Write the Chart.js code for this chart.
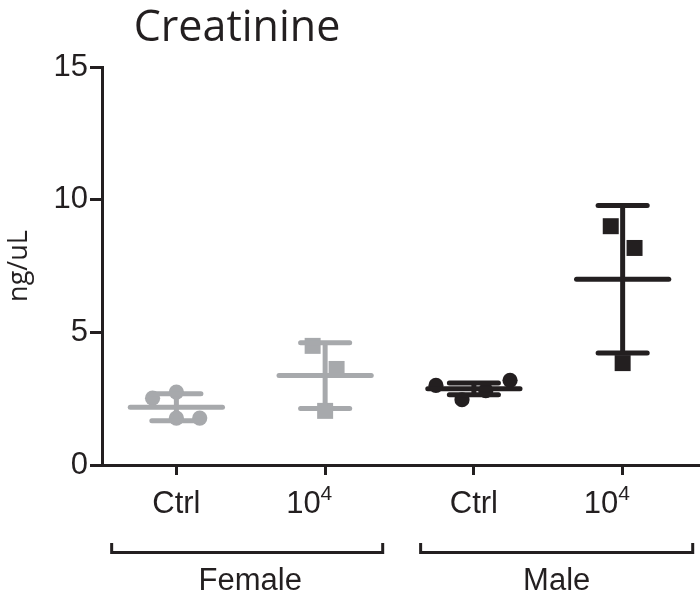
<!DOCTYPE html>
<html><head><meta charset="utf-8">
<script src="https://cdn.jsdelivr.net/npm/chart.js@4.4.1/dist/chart.umd.min.js"></script>
<style>html,body{margin:0;padding:0;background:#fff}#wrap{width:700px;height:605px;position:relative}</style>
</head><body><div id="wrap"><canvas id="c"></canvas></div>
<script>
// ---- data ----
const categories = ['Ctrl', '10', 'Ctrl', '10'];
const categorySup = ['', '4', '', '4'];
const groups = ['Female', 'Male'];
const yTicks = [0, 5, 10, 15];
const femaleCtrl = [2.52, 2.75, 1.77, 1.77];
const female1e4 = [4.49, 3.62, 2.04];
const maleCtrl = [3.00, 3.19, 2.46, 2.80];
const male1e4 = [9.00, 8.18, 3.84];
const means = [2.18, 3.37, 2.87, 7.00];
const sds = [0.51, 1.24, 0.22, 2.78];

// ---- layout / style ----
const jitter = [[-0.16, 0, 0, 0.157], [-0.084, 0.077, 0], [-0.255, 0.243, -0.08, 0.08], [-0.08, 0.08, 0]];
const bracketSpans = [[-0.435, 1.387], [1.642, 3.471]];
const GRAY = '#a7a9ac', BLACK = '#231f20';
const colors = [GRAY, GRAY, BLACK, BLACK];
const shapes = ['circle', 'rect', 'circle', 'rect'];
const series = [femaleCtrl, female1e4, maleCtrl, male1e4];
const ARIAL = '"Liberation Sans", Arial, sans-serif';
const MYRIAD = '"Open Sans", sans-serif';

const datasets = series.map((vals, i) => ({
  label: categories[i] + categorySup[i],
  data: vals.map((v, k) => ({ x: i + jitter[i][k], y: v })),
  pointStyle: shapes[i],
  pointRadius: shapes[i] === 'rect' ? 11.3 : 7.6,
  pointHoverRadius: shapes[i] === 'rect' ? 11.3 : 7.6,
  pointBackgroundColor: colors[i],
  pointBorderColor: colors[i],
  pointBorderWidth: 0,
  showLine: false
}));

const errorBars = {
  id: 'errorBars',
  afterDatasetsDraw(chart) {
    const { ctx, scales: { x, y } } = chart;
    ctx.save();
    ctx.lineWidth = 5;
    means.forEach((m, i) => {
      ctx.strokeStyle = colors[i];
      const cx = x.getPixelForValue(i);
      const top = y.getPixelForValue(m + sds[i]);
      const bot = y.getPixelForValue(m - sds[i]);
      const mid = y.getPixelForValue(m);
      ctx.lineCap = 'butt';
      ctx.beginPath(); ctx.moveTo(cx, top); ctx.lineTo(cx, bot); ctx.stroke();
      ctx.lineCap = 'round';
      const l1 = x.getPixelForValue(i - 0.31), r1 = x.getPixelForValue(i + 0.31);
      const l2 = x.getPixelForValue(i - 0.165), r2 = x.getPixelForValue(i + 0.165);
      ctx.beginPath(); ctx.moveTo(l1, mid); ctx.lineTo(r1, mid); ctx.stroke();
      ctx.beginPath(); ctx.moveTo(l2, top); ctx.lineTo(r2, top); ctx.stroke();
      ctx.beginPath(); ctx.moveTo(l2, bot); ctx.lineTo(r2, bot); ctx.stroke();
    });
    ctx.restore();
  }
};

const labelsPlugin = {
  id: 'labelsPlugin',
  afterDraw(chart) {
    const { ctx, scales: { x } } = chart;
    ctx.save();
    ctx.fillStyle = BLACK;
    ctx.textBaseline = 'alphabetic';
    // title
    ctx.font = '43px ' + MYRIAD;
    ctx.textAlign = 'center';
    ctx.fillText('Creatinine', 237, 41);
    // category labels
    categories.forEach((c, i) => {
      const px = x.getPixelForValue(i);
      ctx.font = '31px ' + ARIAL;
      if (categorySup[i]) {
        ctx.textAlign = 'left';
        const sx = px - 39;
        ctx.fillText(c, sx, 513);
        const w = ctx.measureText(c).width;
        ctx.font = '21px ' + ARIAL;
        ctx.fillText(categorySup[i], sx + w, 500);
      } else {
        ctx.textAlign = 'center';
        ctx.fillText(c, px, 513);
      }
    });
    // brackets + group labels
    ctx.strokeStyle = BLACK;
    ctx.lineWidth = 3;
    ctx.lineCap = 'butt';
    bracketSpans.forEach((s, g) => {
      const a = x.getPixelForValue(s[0]), b = x.getPixelForValue(s[1]);
      ctx.beginPath();
      ctx.moveTo(a, 543); ctx.lineTo(a, 552.5); ctx.lineTo(b, 552.5); ctx.lineTo(b, 543);
      ctx.stroke();
      ctx.font = '31px ' + ARIAL;
      ctx.textAlign = 'center';
      ctx.fillText(groups[g], (a + b) / 2 + (g === 0 ? 3 : 0), 590);
    });
    ctx.restore();
  }
};

new Chart(document.getElementById('c'), {
  type: 'scatter',
  data: { datasets },
  options: {
    responsive: true,
    maintainAspectRatio: false,
    animation: false,
    events: [],
    layout: { autoPadding: false, padding: { top: 67, left: 0, right: 0, bottom: 0 } },
    plugins: { legend: { display: false }, tooltip: { enabled: false }, title: { display: false } },
    scales: {
      x: {
        type: 'linear',
        min: -0.5,
        max: 3.52,
        afterBuildTicks: (s) => { s.ticks = categories.map((c, i) => ({ value: i })); },
        afterFit: (s) => { s.height = 140; },
        ticks: { display: false },
        grid: { drawOnChartArea: false, drawTicks: true, tickLength: 10, tickWidth: 3, tickColor: BLACK },
        border: { display: true, width: 3, color: BLACK }
      },
      y: {
        min: 0,
        max: 15,
        afterBuildTicks: (s) => { s.ticks = yTicks.map(v => ({ value: v })); },
        afterFit: (s) => { s.width = 102; },
        ticks: { font: { family: ARIAL, size: 31 }, color: BLACK, padding: 2 },
        grid: { drawOnChartArea: false, drawTicks: true, tickLength: 12, tickWidth: 3, tickColor: BLACK },
        border: { display: true, width: 3, color: BLACK },
        title: { display: true, text: 'ng/uL', font: { family: MYRIAD, size: 27 }, color: BLACK, padding: { top: 3, bottom: 0 } }
      }
    }
  },
  plugins: [errorBars, labelsPlugin]
});
</script>
</body></html>
